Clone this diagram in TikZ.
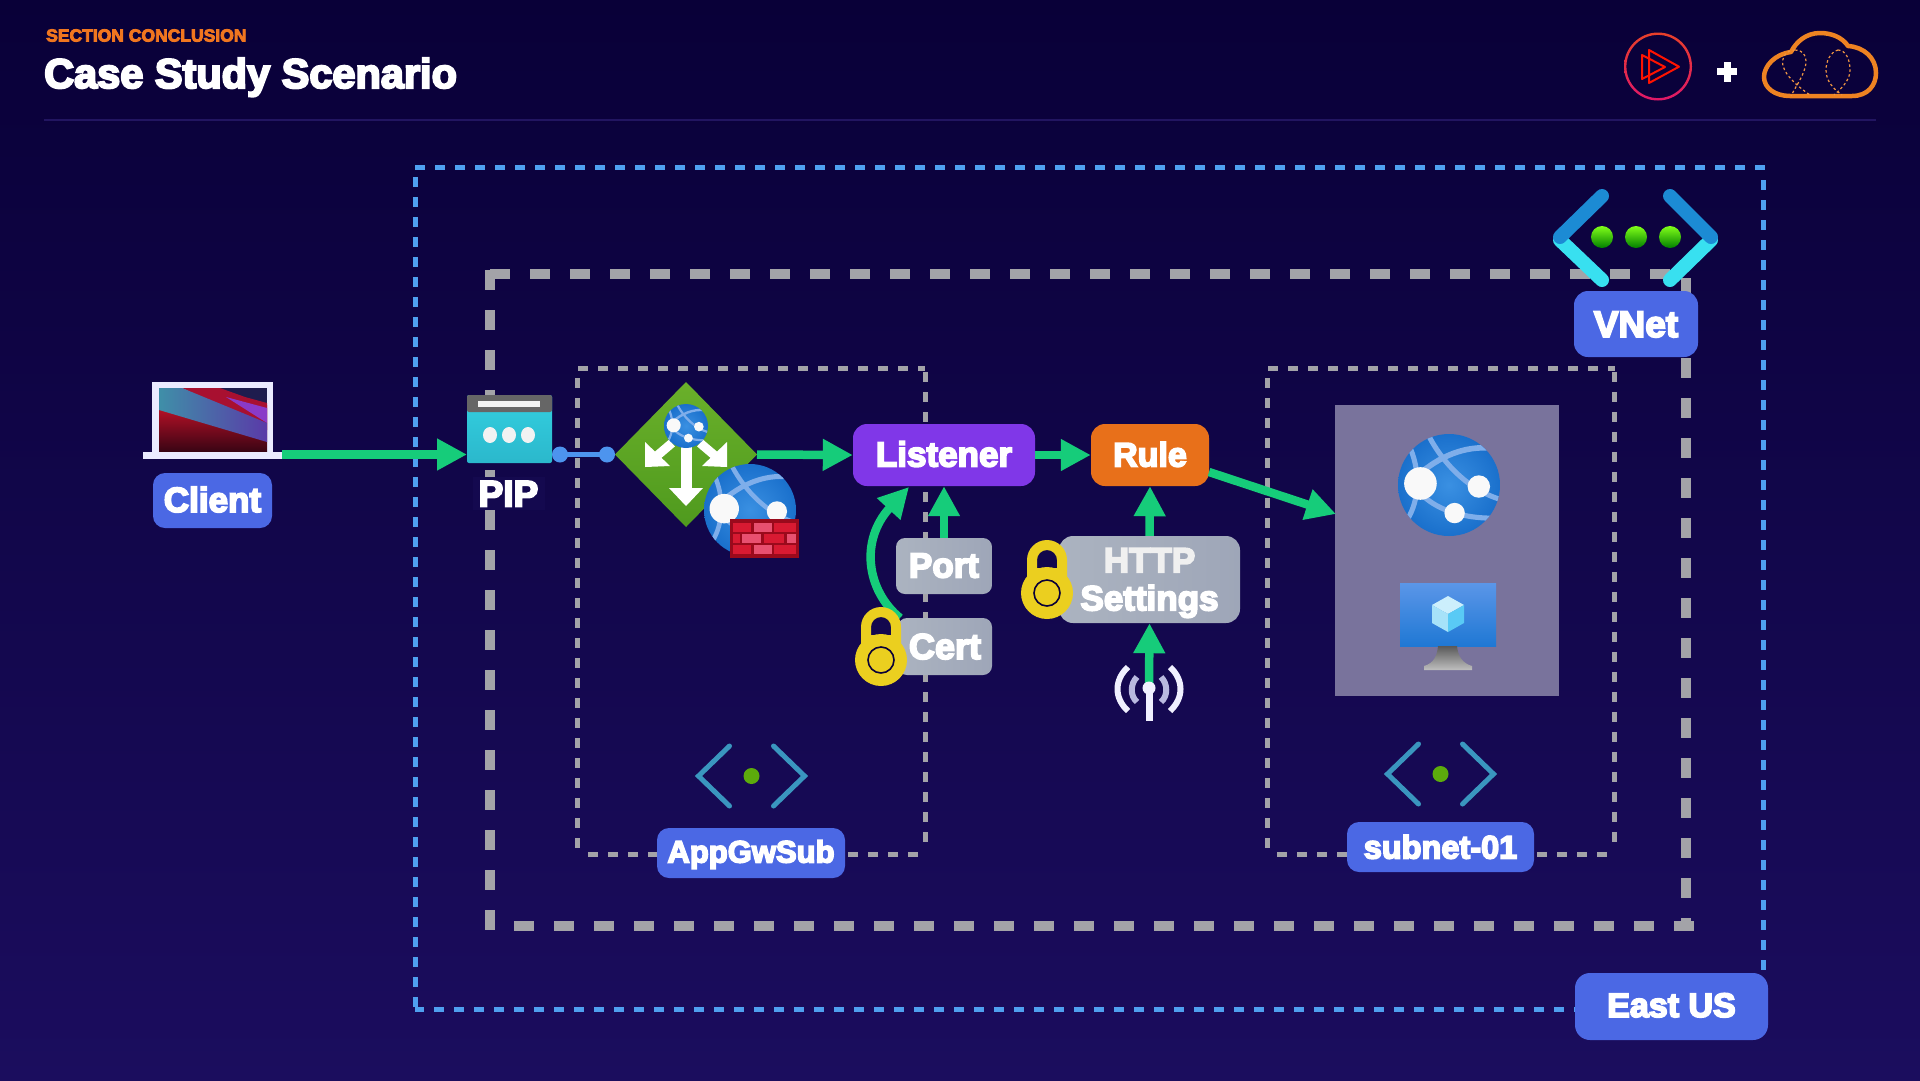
\documentclass[tikz,border=0pt]{standalone}
\usepackage{fontspec}
\usetikzlibrary{arrows.meta,shapes.geometric}
\setmainfont{Liberation Sans}
\newfontfamily\hv{Liberation Sans}[BoldFeatures={FakeBold=5}]
\newcommand\fs[1]{\hv\bfseries\fontsize{#1}{#1}\selectfont}
\definecolor{bgtop}{HTML}{090038}
\definecolor{bgbot}{HTML}{1B0D5E}
\definecolor{lblblue}{HTML}{4B68E4}
\definecolor{flowgreen}{HTML}{16CC7A}
\definecolor{bluedash}{HTML}{4FA0F0}
\definecolor{greydash}{HTML}{A3A3A8}
\definecolor{lockyellow}{HTML}{EBCF1F}
\definecolor{chev}{HTML}{3A96BF}
\definecolor{dotgreen}{HTML}{5CAB0C}
\definecolor{cloudorange}{HTML}{EE8322}
\definecolor{band}{HTML}{7FAEEA}
\definecolor{fwdark}{HTML}{9A0A1C}
\definecolor{fwred}{HTML}{D81A32}
\definecolor{fwpink}{HTML}{E85070}
\definecolor{globein}{HTML}{3A90E2}
\definecolor{globeout}{HTML}{1A70CC}
\definecolor{greyl}{HTML}{ABB3C0}
\definecolor{greyr}{HTML}{9EA6B8}
\definecolor{listenerc}{HTML}{8037E8}
\definecolor{rulec}{HTML}{E8701A}
\definecolor{connblue}{HTML}{4D94EE}
\definecolor{pipbg}{HTML}{14094F}
\definecolor{paneltone}{HTML}{79739C}
\definecolor{vneta}{HTML}{1C8BD4}
\definecolor{vnetb}{HTML}{38E0F0}
\definecolor{ringtop}{HTML}{E8402A}
\definecolor{ringbot}{HTML}{E01868}
\tikzset{
  flow/.style={draw=flowgreen,line width=8.5pt,-{Triangle[length=30pt,width=30pt]}},
  lbl/.style={rounded corners=12pt,inner sep=0pt,text=white,fill=lblblue,text height=23pt,text depth=0pt},
  greybox/.style={rounded corners=9pt,inner sep=0pt,text=white,left color=greyl,right color=greyr},
  thick dash/.style={draw=greydash,line width=10.5pt,dash pattern=on 20pt off 20pt},
  thin dash/.style={draw=greydash,line width=5pt,dash pattern=on 10pt off 10pt},
  blue dash/.style={draw=bluedash,line width=5pt,dash pattern=on 10pt off 10pt},
  chevron/.style={draw=chev,line width=5pt,line cap=round,line join=miter}
}
\newcommand\globeicon[3]{%
\begin{scope}[shift={(#1,#2)},x=#3pt,y=-#3pt]
  \shade[inner color=globein,outer color=globeout] (0,0) circle[radius=1];
  \begin{scope}
    \clip (0,0) circle[radius=1];
    \draw[band,line width=.1*#3pt] (-.39,-.95) .. controls (-.1,-.4) and (.4,.1) .. (1,.28);
    \draw[band,line width=.11*#3pt] (-.6,-.2) .. controls (-.2,-.55) and (.3,-.78) .. (.85,-.72);
    \draw[band,line width=.1*#3pt] (-.75,-.7) .. controls (-.55,-.2) and (-.6,.3) .. (-.8,.65);
    \draw[band,line width=.1*#3pt] (-.5,.22) .. controls (-.2,.5) and (.3,.65) .. (.85,.65);
  \end{scope}
  \fill[white!95!gray] (-.56,-.03) circle[radius=.32];
  \fill[white!95!gray] (.585,.03) circle[radius=.22];
  \fill[white!95!gray] (.11,.55) circle[radius=.2];
\end{scope}}
\newcommand\lockicon[2]{%
\begin{scope}[shift={(#1,#2)}]
  \fill[lockyellow,even odd rule] (-20,0) -- (-20,-33) arc (180:360:20) -- (20,0) -- cycle
     (-10,-25) -- (-10,-33) arc (180:360:10) -- (10,-25) -- cycle;
  \fill[lockyellow] (0,0) circle[radius=26];
  \draw[bgtop,line width=1.6pt] (0,0) circle[radius=13];
\end{scope}}
\newcommand\chevicon[2]{%
\begin{scope}[shift={(#1,#2)}]
  \draw[chevron] (-22,-30) -- (-53,0) -- (-22,30);
  \draw[chevron] (22,-30) -- (53,0) -- (22,30);
  \fill[dotgreen] (0,0) circle[radius=8];
\end{scope}}
\begin{document}
\begin{tikzpicture}[x=1pt,y=-1pt]
\useasboundingbox (0,0) rectangle (1920,1080);
\fill[top color=bgtop,bottom color=bgbot] (0,0) rectangle (1920,1080);

% header
\node[anchor=west,inner sep=0pt,text=cloudorange!90!red] (section) at (46,35.5) {\fs{17.5}SECTION CONCLUSION};
\node[anchor=west,inner sep=0pt,text=white,text height=28pt,text depth=0pt] (title) at (44,74) {\fs{41.5}Case Study Scenario};
\draw[line width=2pt,draw=bgtop!70!white!12!bgbot] (44,120) -- (1876,120);

% logo
\shade[top color=ringtop,bottom color=ringbot,even odd rule] (1658,66.5) circle[radius=34] (1658,66.5) circle[radius=31.6];
\draw[line width=2pt,draw=red!85!orange,line join=round] (1649,50) -- (1679,66.7) -- (1649,83) -- cycle;
\draw[line width=2pt,draw=red!85!orange,line join=round] (1642,55) -- (1665,67) -- (1642,79) -- cycle;
\fill[white] (1717,68) rectangle (1737,75);
\fill[white] (1723.5,61.5) rectangle (1730.5,81.5);
\draw[cloudorange,line width=4.5pt,line join=round] (1790,96) -- (1852,96) .. controls (1868,96) and (1876,85) .. (1876,73) .. controls (1876,58) and (1864,47) .. (1848,46) .. controls (1842,37) and (1831,33) .. (1820,33) .. controls (1806,33) and (1796,42) .. (1791,52) .. controls (1775,54) and (1764,66) .. (1764,77) .. controls (1764,88) and (1775,96) .. (1790,96) -- cycle;
\draw[cloudorange!85!white,line width=1.2pt,dash pattern=on 2.5pt off 2.5pt]
  (1795,50) .. controls (1786,50) and (1781,58) .. (1783,66) .. controls (1786,76) and (1797,86) .. (1810,95)
  (1795,50) .. controls (1804,50) and (1808,58) .. (1805,68) .. controls (1802,78) and (1796,86) .. (1791,96)
  (1838,50) .. controls (1830,52) and (1826,62) .. (1826,70) .. controls (1826,80) and (1832,88) .. (1842,95)
  (1838,50) .. controls (1846,50) and (1850,60) .. (1850,70) .. controls (1850,80) and (1842,88) .. (1834,95);

% region frames
\draw[blue dash] (415,167) -- (1766,167);
\draw[blue dash] (415.5,177) -- (415.5,1009);
\draw[blue dash] (1763.5,180) -- (1763.5,975);
\draw[blue dash] (1584,1009) -- (415,1009);
\draw[thick dash] (490,274) -- (1686,274);
\draw[thick dash] (490,270) -- (490,930);
\draw[thick dash] (1686,278) -- (1686,930);
\draw[thick dash] (1694,926) -- (500,926);
\draw[thin dash] (578,368) -- (925,368);
\draw[thin dash] (577.5,378) -- (577.5,852);
\draw[thin dash] (925,372) -- (925,852);
\draw[thin dash] (588,854) -- (920,854);
\draw[thin dash] (1268,368) -- (1615,368);
\draw[thin dash] (1267.5,378) -- (1267.5,852);
\draw[thin dash] (1614.5,372) -- (1614.5,852);
\draw[thin dash] (1277,854) -- (1610,854);

% app VM panel
\node[fill=paneltone,inner sep=0pt,minimum width=224pt,minimum height=291pt] (panel) at (1447,550.5) {};
\coordinate (panelin) at (1336,514);
\globeicon{1449}{485}{51}
\definecolor{vmtop}{HTML}{5B96E8}
\definecolor{vmbot}{HTML}{1F78D4}
\shade[top color=vmtop,bottom color=vmbot] (1400,583) rectangle (1496,646);
\shade[top color=gray!70!black,bottom color=lightgray] (1438,646) -- (1457,646) .. controls (1458,656) and (1462,663) .. (1472,666) -- (1472,670) -- (1424,670) -- (1424,666) .. controls (1434,663) and (1437,656) .. (1438,646) -- cycle;
\fill[cyan!20!white] (1448,596) -- (1464,605) -- (1448,614) -- (1432,605) -- cycle;
\fill[cyan!35!white] (1432,605) -- (1448,614) -- (1448,632) -- (1432,623) -- cycle;
\fill[cyan!65!white] (1464,605) -- (1448,614) -- (1448,632) -- (1464,623) -- cycle;

% laptop
\definecolor{lapred}{HTML}{C01228}
\definecolor{lapdark}{HTML}{3A0414}
\definecolor{lapstrip}{HTML}{A81030}
\definecolor{lappurple}{HTML}{8A3AC8}
\definecolor{lapnavy}{HTML}{1E1C4E}
\definecolor{lapteal}{HTML}{3F8FA8}
\definecolor{lapblue}{HTML}{5A3AA8}
\fill[white!92!blue] (152,382) rectangle (273,455);
\begin{scope}
  \clip (159,388) rectangle (267,451);
  \shade[top color=lapred,bottom color=lapdark] (159,405) rectangle (267,451);
  \fill[lapnavy] (215,388) rectangle (267,420);
  \fill[lapstrip] (182,388) -- (220,388) -- (245,397) -- (267,403) -- (267,430) -- cycle;
  \fill[lappurple] (226,397) -- (267,408) -- (267,423) -- cycle;
  \shade[left color=lapteal,right color=lapblue] (159,388) -- (182,388) -- (267,423) -- (267,442) -- (159,410) -- cycle;
\end{scope}
\fill[white!92!blue] (143,452) rectangle (282,459);
\coordinate (lapright) at (282,454.5);

% PIP icon
\definecolor{piptop}{HTML}{33CFE0}
\definecolor{pipbot}{HTML}{2BB8CC}
\node[inner sep=0pt,minimum width=85pt,minimum height=68pt,top color=piptop,bottom color=pipbot,rounded corners=2pt] (pipicon) at (509.5,429) {};
\coordinate (pipin) at (467,454.5);
\coordinate (pipout) at (560,454.5);
\fill[gray!80!black,rounded corners=2pt] (467,395) rectangle (552,412);
\fill[white!90!gray] (478,401) rectangle (540,407);
\foreach \dx in {490,509,528}{\fill[white!90!gray] (\dx,435) ellipse[x radius=7,y radius=8];}

% gateway
\definecolor{gwtop}{HTML}{6AB02A}
\definecolor{gwbot}{HTML}{4F9A1E}
\shade[top color=gwtop,bottom color=gwbot] (615,454.5) -- (686,382) -- (757,454.5) -- (686,527) -- cycle;
\coordinate (gwleft) at (607,454.5);
\coordinate (gwright) at (757,454.5);
\fill[white] (680.5,445) rectangle (691.5,490);
\fill[white] (669,488) -- (703,488) -- (686,506) -- cycle;
\draw[white,line width=9pt] (672,443) -- (652,460);
\fill[white] (645,442) -- (645,467) -- (670,466) -- cycle;
\draw[white,line width=9pt] (700,443) -- (720,460);
\fill[white] (727,442) -- (727,467) -- (702,466) -- cycle;
\globeicon{686}{426}{22}
\globeicon{750}{510}{46}
\fill[fwdark] (730,519) rectangle (799,558);
\foreach \xa/\xb/\c in {733/751/fwred,754/772/fwpink,774/796/fwred}{
  \fill[\c] (\xa,523) rectangle (\xb,532);
  \fill[\c] (\xa,545) rectangle (\xb,554);}
\foreach \xa/\xb/\c in {733/740/fwred,742/761/fwpink,764/784/fwred,787/796/fwpink}{
  \fill[\c] (\xa,534) rectangle (\xb,543);}

% subnet icons and VNet icon
\chevicon{751.5}{776}
\chevicon{1440.5}{774}
\draw[draw=vnetb,line width=14pt,line cap=round] (1602,280) -- (1560,240);
\draw[draw=vnetb,line width=14pt,line cap=round] (1670,280) -- (1711,240);
\draw[draw=vneta,line width=14pt,line cap=round,line join=round] (1602,196) -- (1560,237);
\draw[draw=vneta,line width=14pt,line cap=round,line join=round] (1670,196) -- (1711,237);
\foreach \dx in {1602,1636,1670}{\shade[top color=lime!60!green!90!white,bottom color=green!50!black] (\dx,237) circle[radius=11];}

% connector between public IP and gateway
\fill[connblue] (pipout) circle[radius=8];
\fill[connblue] (gwleft) circle[radius=8];
\draw[connblue,line width=5pt] (pipout) -- (gwleft);

% boxes
\node[lbl,minimum width=119pt,minimum height=55pt] (client) at (212.5,500.5) {\fs{35}Client};
\node[inner sep=0pt,fill=pipbg,text=white,minimum width=72pt,minimum height=33pt,text height=26pt,text depth=0pt] (pip) at (508.5,493.5) {\fs{37}PIP};
\node[lbl,fill=listenerc,rounded corners=14pt,minimum width=182pt,minimum height=62pt] (listener) at (944,455) {\fs{35}Listener};
\node[lbl,fill=rulec,rounded corners=14pt,minimum width=118pt,minimum height=62pt] (rule) at (1150,455) {\fs{34}Rule};
\node[greybox,minimum width=96pt,minimum height=56pt,text height=23pt,text depth=0pt] (port) at (944,566) {\fs{35}Port};
\node[greybox,minimum width=94pt,minimum height=57pt,text height=25pt,text depth=0pt] (cert) at (945,646.5) {\fs{36}Cert};
\node[greybox,rounded corners=14pt,minimum width=181pt,minimum height=87pt] (http) at (1149.5,579.5) {};
\node[inner sep=0pt,text=white,align=center,font=\fs{35}] (httplabel) at (1149.5,583) {\textcolor{white!88!gray}{HTTP}\\[3pt]Settings};
\node[lbl,rounded corners=14pt,minimum width=124pt,minimum height=66pt,text height=26pt] (vnet) at (1636,324) {\fs{37}VNet};
\node[lbl,rounded corners=15pt,minimum width=193pt,minimum height=67pt,text height=21pt] (eastus) at (1671.5,1006.5) {\fs{34}East US};
\node[lbl,minimum width=188pt,minimum height=50pt,text height=19pt] (appgw) at (751,853) {\fs{31}AppGwSub};
\node[lbl,minimum width=187pt,minimum height=50pt,text height=23pt] (subnet) at (1440.5,847) {\fs{32.5}subnet-01};

% antenna
\coordinate (antenna) at (1149,688);
\draw[flow] (antenna) -- (http.south);
\draw[white!94!blue,line width=6pt] (1128,667) .. controls (1114,680) and (1114,698) .. (1128,711);
\draw[white!94!blue,line width=6pt] (1170,667) .. controls (1184,680) and (1184,698) .. (1170,711);
\draw[blue!20!white!75!gray,line width=6pt] (1137,677) .. controls (1130,684) and (1130,696) .. (1137,702);
\draw[blue!20!white!75!gray,line width=6pt] (1161,677) .. controls (1168,684) and (1168,696) .. (1161,702);
\fill[white!94!blue] (1145.5,688) rectangle (1152.5,721);
\fill[white!94!blue] (antenna) circle[radius=6.5];

% connectors
\draw[flow] (lapright) -- (pipin);
\draw[flow] (gwright) -- (listener.west);
\draw[flow] (listener.east) -- (rule.west);
\coordinate (ruleout) at (1209,472);
\draw[flow] (ruleout) -- (panelin);
\draw[flow] (port.north) -- (listener.south);
\draw[flow] (http.north) -- (rule.south);
\coordinate (certout) at (900,618);
\coordinate (listenerin) at (909,487);
\draw[flow] (certout) .. controls (866,590) and (860,540) .. (listenerin);

% locks
\lockicon{881}{660}
\lockicon{1047}{593}
\end{tikzpicture}
\end{document}
